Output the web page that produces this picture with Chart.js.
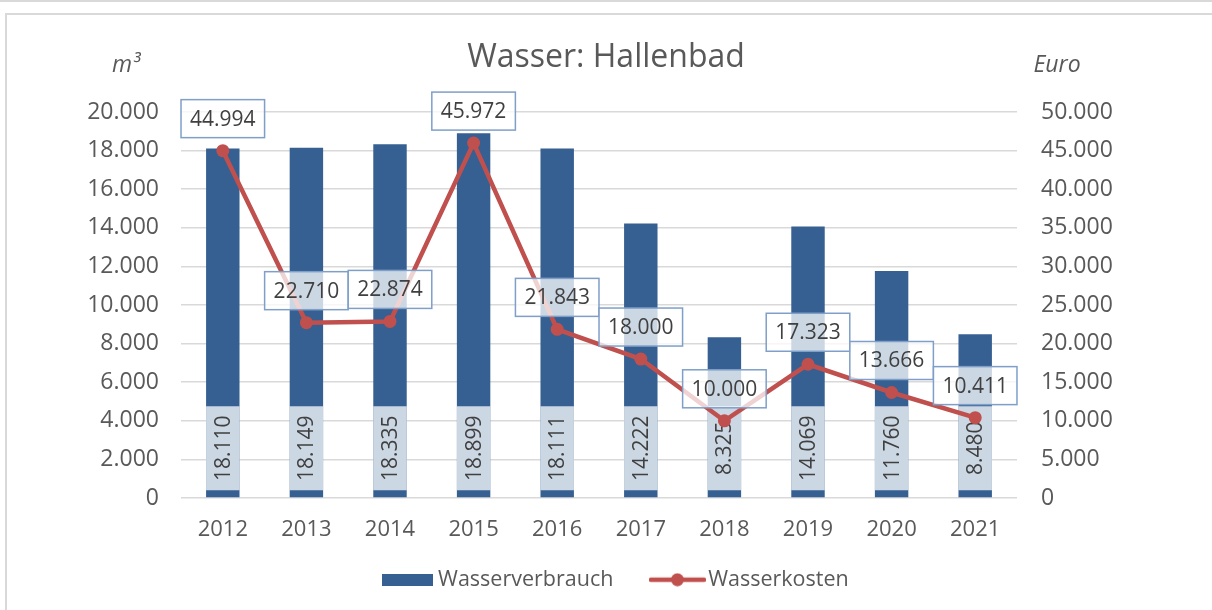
<!DOCTYPE html>
<html><head><meta charset="utf-8">
<script src="https://cdn.jsdelivr.net/npm/chart.js@4"></script>
<style>
html,body{margin:0;padding:0;background:#fff;}
#wrap{position:relative;width:1212px;height:610px;overflow:hidden;background:#fff;}
#topline{position:absolute;left:0;top:0;width:1212px;height:2px;background:#d9d9d9;}
#frame{position:absolute;left:5px;top:13px;width:1230px;height:640px;border:2px solid #d9d9d9;}
canvas{position:absolute;left:0;top:0;}
</style></head>
<body><div id="wrap"><div id="topline"></div><div id="frame"></div><canvas id="c" width="1212" height="610"></canvas></div>
<script>
const years = ['2012','2013','2014','2015','2016','2017','2018','2019','2020','2021'];
const wasserverbrauch = [18110, 18149, 18335, 18899, 18111, 14222, 8325, 14069, 11760, 8480];
const wasserkosten = [44994, 22710, 22874, 45972, 21843, 18000, 10000, 17323, 13666, 10411];
const leftMax = 20000, leftStep = 2000;
const rightMax = 50000, rightStep = 5000;

const BLUE = '#365f92';
const RED = '#c0504d';
const TXT = '#595959';
const FONT = "'Open Sans', sans-serif";
const fmt = v => Number(v).toLocaleString('de-DE');

function barIcon(){
  const c = document.createElement('canvas'); c.width = 51; c.height = 12;
  const g = c.getContext('2d'); g.fillStyle = BLUE; g.fillRect(0,0,51,12); return c;
}
function lineIcon(){
  const c = document.createElement('canvas'); c.width = 57; c.height = 14;
  const g = c.getContext('2d'); g.strokeStyle = RED; g.lineWidth = 4.5; g.lineCap='round';
  g.beginPath(); g.moveTo(2,7); g.lineTo(55,7); g.stroke();
  g.fillStyle = RED; g.beginPath(); g.arc(28.5,7,6.5,0,Math.PI*2); g.fill(); return c;
}

const extras = {
  id: 'extras',
  afterLayout(chart){
    const lg = chart.legend;
    if (lg) { lg.top -= 19; lg.bottom -= 19; lg.left += 12; lg.right += 12; }
  },
  afterDatasetDraw(chart, args){
    if (args.index !== 1) return;
    const ctx = chart.ctx;
    const meta = chart.getDatasetMeta(1);
    ctx.save();
    meta.data.forEach((bar, i) => {
      const p = bar.getProps(['x','width','base'], true);
      const w = p.width, top = p.base - 91;
      ctx.fillStyle = 'rgba(255,255,255,0.75)';
      ctx.fillRect(p.x - w/2, top, w, 84);
      ctx.save();
      ctx.translate(p.x, top + 42);
      ctx.rotate(-Math.PI/2);
      ctx.fillStyle = '#404040';
      ctx.font = '21px ' + FONT;
      ctx.textAlign = 'center'; ctx.textBaseline = 'middle';
      ctx.fillText(fmt(wasserverbrauch[i]), 0, 1);
      ctx.restore();
    });
    ctx.restore();
  },
  afterDatasetsDraw(chart){
    const ctx = chart.ctx;
    const meta = chart.getDatasetMeta(0);
    ctx.save();
    ctx.font = '21px ' + FONT;
    meta.data.forEach((pt, i) => {
      const t = fmt(wasserkosten[i]);
      const tw = ctx.measureText(t).width;
      const w = tw + 18, h = 38;
      const x = pt.x - w/2, y = pt.y - 13 - h;
      ctx.fillStyle = 'rgba(255,255,255,0.75)';
      ctx.fillRect(x, y, w, h);
      ctx.strokeStyle = '#7f9fc9'; ctx.lineWidth = 1.5;
      ctx.strokeRect(x, y, w, h);
      ctx.fillStyle = '#404040';
      ctx.textAlign = 'center'; ctx.textBaseline = 'middle';
      ctx.fillText(t, pt.x, y + h/2 + 1);
    });
    ctx.restore();
  },
  afterDraw(chart){
    const ctx = chart.ctx;
    ctx.save();
    ctx.fillStyle = TXT;
    ctx.font = 'italic 23px ' + FONT;
    ctx.textAlign = 'center'; ctx.textBaseline = 'middle';
    ctx.fillText('m³', 126, 65);
    ctx.fillText('Euro', 1057, 65);
    ctx.restore();
  }
};

new Chart(document.getElementById('c'), {
  type: 'bar',
  data: {
    labels: years,
    datasets: [
      { type: 'line', label: 'Wasserkosten', data: wasserkosten, yAxisID: 'y1',
        borderColor: RED, backgroundColor: RED, borderWidth: 4.5,
        pointRadius: 6.5, pointBackgroundColor: RED, pointBorderWidth: 0, tension: 0, order: 0 },
      { type: 'bar', label: 'Wasserverbrauch', data: wasserverbrauch, yAxisID: 'y',
        backgroundColor: BLUE, categoryPercentage: 0.8, barPercentage: 0.5, order: 1 }
    ]
  },
  options: {
    responsive: false, animation: false, devicePixelRatio: 1,
    layout: { padding: { left: 0, right: 0, top: 0, bottom: 0 } },
    scales: {
      x: {
        grid: { display: false }, border: { display: false },
        ticks: { color: TXT, font: { family: FONT, size: 22 }, padding: 11 },
        afterFit(s){ s.height = 46; }
      },
      y: {
        position: 'left', min: 0, max: leftMax,
        ticks: { stepSize: leftStep, color: TXT, font: { family: FONT, size: 23 }, padding: 22,
                 callback: v => fmt(v) },
        grid: { color: '#d9d9d9', lineWidth: 1.5, drawTicks: false }, border: { display: false },
        afterFit(s){ s.width = 181; }
      },
      y1: {
        position: 'right', min: 0, max: rightMax,
        ticks: { stepSize: rightStep, color: TXT, font: { family: FONT, size: 23 }, padding: 24,
                 callback: v => fmt(v) },
        grid: { display: false, drawTicks: false }, border: { display: false },
        afterFit(s){ s.width = 195; }
      }
    },
    plugins: {
      tooltip: { enabled: false },
      title: { display: true, text: 'Wasser: Hallenbad', color: TXT,
               font: { family: FONT, size: 32, weight: 'normal' }, padding: { top: 38.8, bottom: 34.8 } },
      legend: {
        position: 'bottom', maxHeight: 66,
        labels: {
          color: TXT, font: { family: FONT, size: 21.5 }, padding: 44,
          usePointStyle: true, pointStyleWidth: 40, boxHeight: 21.5,
          generateLabels(chart){
            return [
              { text: 'Wasserverbrauch', datasetIndex: 1, pointStyle: barIcon(), fontColor: TXT,
                fillStyle: BLUE, strokeStyle: BLUE, lineWidth: 0, hidden: false },
              { text: 'Wasserkosten', datasetIndex: 0, pointStyle: lineIcon(), fontColor: TXT,
                fillStyle: RED, strokeStyle: RED, lineWidth: 0, hidden: false }
            ];
          }
        }
      }
    }
  },
  plugins: [extras]
});
</script>
</body></html>
